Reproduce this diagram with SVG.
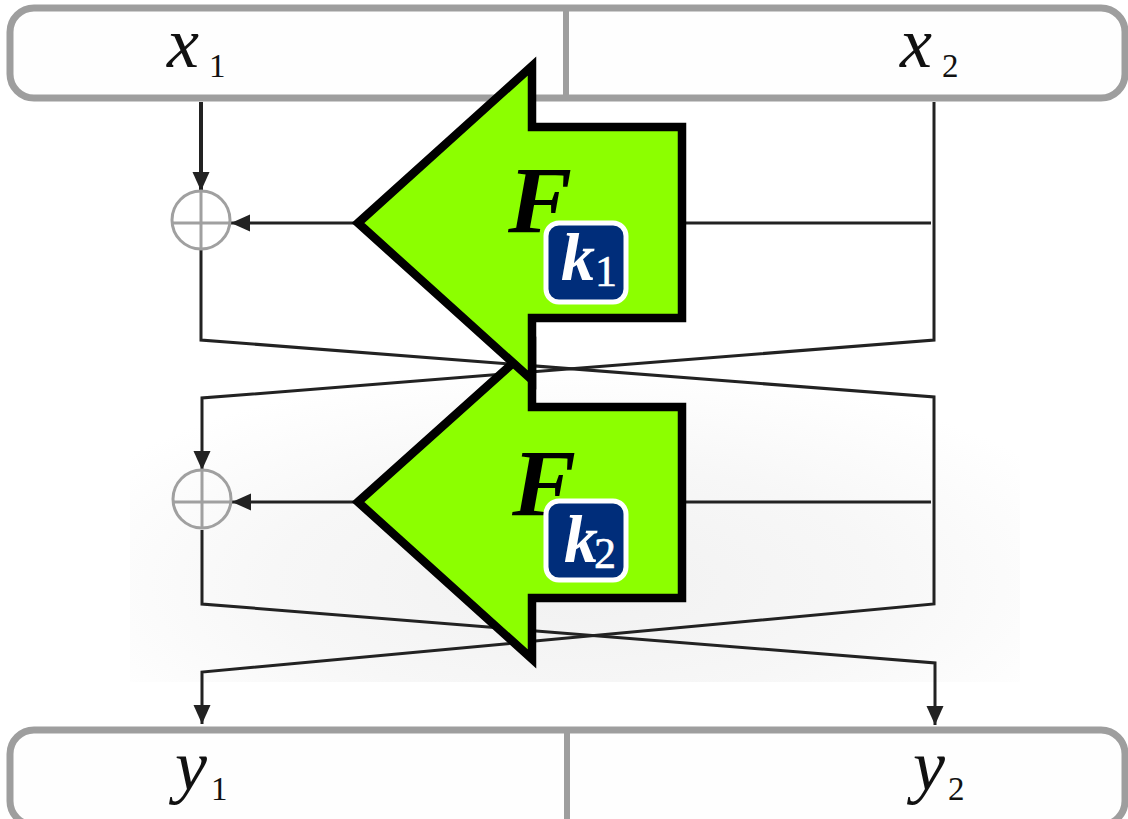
<svg xmlns="http://www.w3.org/2000/svg" width="1128" height="819" viewBox="0 0 1128 819">
<defs>
<radialGradient id="bg" cx="0.5" cy="0.72" r="0.62"><stop offset="0" stop-color="#f1f1f1"/><stop offset="0.55" stop-color="#f7f7f7"/><stop offset="1" stop-color="#ffffff"/></radialGradient>
<marker id="ah" markerUnits="userSpaceOnUse" markerWidth="20" markerHeight="18" refX="19" refY="8.5" orient="auto"><path d="M0,0 L19,8.5 L0,17 Z" fill="#222"/></marker>
</defs>
<style>
.box{fill:#fefefe;stroke:#9e9e9e;stroke-width:7}
.div{stroke:#9e9e9e;stroke-width:6;fill:none}
.wire{fill:none;stroke:#222;stroke-width:3}
.xor{fill:none;stroke:#a0a0a0;stroke-width:3}
.arrow{fill:#8cff00;stroke:#000;stroke-width:8.5}
.key{fill:#002d7a;stroke:#fff;stroke-width:5}
.m{font-family:"Liberation Serif",serif;font-style:italic;font-size:72px;fill:#111}
.s{font-style:normal;font-size:33px}
.F{font-family:"Liberation Serif",serif;font-style:italic;font-weight:bold;font-size:96px;fill:#000}
.k{font-family:"Liberation Serif",serif;font-style:italic;font-weight:bold;font-size:68px;fill:#fff}
.k1{font-style:normal;font-weight:normal;font-size:44px;stroke:#fff;stroke-width:.6}
</style>
<rect width="1128" height="819" fill="#fff"/>
<rect x="130" y="330" width="890" height="352" fill="url(#bg)"/>
<g id="connectors">
<path class="wire" d="M201,102 V191" style="stroke-width:4" marker-end="url(#ah)"/>
<path class="wire" d="M355,223 H231" marker-end="url(#ah)"/>
<path class="wire" d="M931,223 H685"/>
<path class="wire" d="M201,250 V340 L934,397 V502"/>
<path class="wire" d="M934,102 V340 L202,398 V470" marker-end="url(#ah)"/>
<path class="wire" d="M355,502 H232" marker-end="url(#ah)"/>
<path class="wire" d="M931,502 H685"/>
<path class="wire" d="M202,530 V604 L935,663 V725" marker-end="url(#ah)"/>
<path class="wire" d="M934,502 V604 L202,672 V724" marker-end="url(#ah)"/>
</g>
<g id="x-block">
<rect class="box" x="10" y="8" width="1115" height="90" rx="24"/>
<path class="div" d="M566,8 V98"/>
<text class="m" x="167" y="67">x<tspan class="s" x="209" y="77">1</tspan></text>
<text class="m" x="900" y="67">x<tspan class="s" x="942" y="77">2</tspan></text>
</g>
<g id="y-block">
<rect class="box" x="10" y="730" width="1115" height="95" rx="24"/>
<path class="div" d="M567,730 V819"/>
<text class="m" x="175" y="790">y<tspan class="s" x="211" y="800">1</tspan></text>
<text class="m" x="913" y="790">y<tspan class="s" x="948" y="800">2</tspan></text>
</g>
<g id="xor1">
<circle class="xor" cx="201" cy="220" r="29"/>
<path class="xor" d="M172,223 H230 M201,191 V249"/>
</g>
<g id="xor2">
<circle class="xor" cx="202" cy="499" r="29"/>
<path class="xor" d="M173,502 H231 M202,470 V528"/>
</g>
<g id="f2">
<polygon class="arrow" points="358,502 532,346 532,407 682,407 682,598 532,598 532,659"/>
<text class="F" x="512" y="516">F</text>
<rect class="key" x="546" y="501" width="80" height="79" rx="13"/>
<text class="k" x="564" y="562">k<tspan class="k1" x="594" y="568">2</tspan></text>
</g>
<g id="f1">
<polygon class="arrow" points="358,223 532,66 532,127 682,127 682,318 532,318 532,380"/>
<text class="F" x="508" y="233">F</text>
<rect class="key" x="546" y="223" width="80" height="79" rx="13"/>
<text class="k" x="561" y="280">k<tspan class="k1" x="595" y="286">1</tspan></text>
</g>
</svg>
